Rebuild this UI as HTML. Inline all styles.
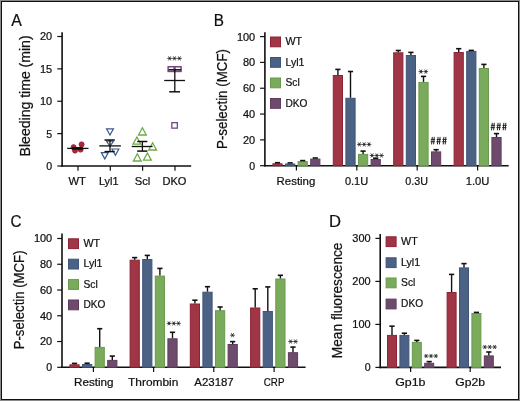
<!DOCTYPE html>
<html><head><meta charset="utf-8"><style>
html,body{margin:0;padding:0;background:#fff;}
body{width:520px;height:401px;overflow:hidden;}
svg{display:block;will-change:transform;}
text{font-family:"Liberation Sans",sans-serif;stroke:#111;stroke-width:0.22px;}
</style></head><body>
<svg width="520" height="401" viewBox="0 0 520 401" font-family="Liberation Sans, sans-serif" fill="#111">
<rect x="0" y="0" width="520" height="401" fill="#fff"/>
<rect x="0.5" y="0.5" width="519" height="400" fill="none" stroke="#8a8a8a" stroke-width="1"/>
<rect x="1.5" y="1.5" width="517" height="398" fill="none" stroke="#111" stroke-width="1"/>
<text x="11.2" y="26.0" font-size="16.6" text-anchor="start" textLength="10.6" lengthAdjust="spacingAndGlyphs" >A</text>
<text x="213.8" y="25.8" font-size="16.6" text-anchor="start" textLength="10.2" lengthAdjust="spacingAndGlyphs" >B</text>
<text x="10.6" y="227.2" font-size="16.6" text-anchor="start" textLength="11.0" lengthAdjust="spacingAndGlyphs" >C</text>
<text x="329.0" y="227.3" font-size="16.6" text-anchor="start" textLength="12.0" lengthAdjust="spacingAndGlyphs" >D</text>
<line x1="62.1" y1="32.3" x2="62.1" y2="166.8" stroke="#111" stroke-width="1.6"/>
<line x1="57.300000000000004" y1="36.5" x2="62.1" y2="36.5" stroke="#111" stroke-width="1.2"/>
<text x="52.2" y="40.4" font-size="10.6" text-anchor="end" textLength="12.2" lengthAdjust="spacingAndGlyphs" >20</text>
<line x1="57.300000000000004" y1="68.875" x2="62.1" y2="68.875" stroke="#111" stroke-width="1.2"/>
<text x="52.2" y="72.775" font-size="10.6" text-anchor="end" textLength="12.2" lengthAdjust="spacingAndGlyphs" >15</text>
<line x1="57.300000000000004" y1="101.25" x2="62.1" y2="101.25" stroke="#111" stroke-width="1.2"/>
<text x="52.2" y="105.15" font-size="10.6" text-anchor="end" textLength="12.2" lengthAdjust="spacingAndGlyphs" >10</text>
<line x1="57.300000000000004" y1="133.625" x2="62.1" y2="133.625" stroke="#111" stroke-width="1.2"/>
<text x="52.2" y="137.525" font-size="10.6" text-anchor="end" >5</text>
<line x1="57.300000000000004" y1="166.0" x2="62.1" y2="166.0" stroke="#111" stroke-width="1.2"/>
<text x="52.2" y="169.9" font-size="10.6" text-anchor="end" >0</text>
<line x1="61.300000000000004" y1="166.0" x2="191.2" y2="166.0" stroke="#111" stroke-width="1.6"/>
<line x1="78.0" y1="166.0" x2="78.0" y2="170.7" stroke="#111" stroke-width="1.2"/>
<line x1="110.3" y1="166.0" x2="110.3" y2="170.7" stroke="#111" stroke-width="1.2"/>
<line x1="142.6" y1="166.0" x2="142.6" y2="170.7" stroke="#111" stroke-width="1.2"/>
<line x1="175.0" y1="166.0" x2="175.0" y2="170.7" stroke="#111" stroke-width="1.2"/>
<text x="77.15" y="184.9" font-size="11.3" text-anchor="middle" textLength="17.5" lengthAdjust="spacingAndGlyphs" >WT</text>
<text x="108.75" y="184.9" font-size="11.3" text-anchor="middle" textLength="19.7" lengthAdjust="spacingAndGlyphs" >Lyl1</text>
<text x="142.55" y="184.9" font-size="11.3" text-anchor="middle" textLength="15.6" lengthAdjust="spacingAndGlyphs" >Scl</text>
<text x="174.4" y="184.9" font-size="11.3" text-anchor="middle" textLength="24.0" lengthAdjust="spacingAndGlyphs" >DKO</text>
<text transform="translate(30.2,95.9) rotate(-90)" font-size="14.2" text-anchor="middle" textLength="121.0" lengthAdjust="spacingAndGlyphs">Bleeding time (min)</text>
<circle cx="73.6" cy="147.2" r="2.6" fill="#A8283A" stroke="#8E1F31" stroke-width="0.6"/>
<circle cx="75.0" cy="150.6" r="2.6" fill="#A8283A" stroke="#8E1F31" stroke-width="0.6"/>
<circle cx="81.6" cy="144.4" r="2.6" fill="#A8283A" stroke="#8E1F31" stroke-width="0.6"/>
<circle cx="80.6" cy="149.6" r="2.6" fill="#A8283A" stroke="#8E1F31" stroke-width="0.6"/>
<line x1="67.2" y1="148.4" x2="88.5" y2="148.4" stroke="#111" stroke-width="1.3"/>
<rect x="72.2" y="147.0" width="10.6" height="2.8" fill="#111"/>
<polygon points="106.55,128.8 113.45,128.8 110.0,135.10000000000002" fill="none" stroke="#3A5A8A" stroke-width="1.2" stroke-linejoin="miter"/>
<polygon points="106.55,141.2 113.45,141.2 110.0,146.39999999999998" fill="none" stroke="#3A5A8A" stroke-width="1.2" stroke-linejoin="miter"/>
<polygon points="101.35,152.6 108.25,152.6 104.8,158.9" fill="none" stroke="#3A5A8A" stroke-width="1.2" stroke-linejoin="miter"/>
<polygon points="111.95,149.0 118.85000000000001,149.0 115.4,155.3" fill="none" stroke="#3A5A8A" stroke-width="1.2" stroke-linejoin="miter"/>
<line x1="99.3" y1="145.9" x2="120.9" y2="145.9" stroke="#111" stroke-width="1.3"/>
<line x1="110.0" y1="140.0" x2="110.0" y2="151.6" stroke="#111" stroke-width="1.3"/>
<line x1="104.5" y1="140.0" x2="114.8" y2="140.0" stroke="#111" stroke-width="1.5"/>
<line x1="104.5" y1="151.6" x2="114.8" y2="151.6" stroke="#111" stroke-width="1.5"/>
<polygon points="142.4,127.8 146.3,135.0 138.5,135.0" fill="none" stroke="#6BAA45" stroke-width="1.3" stroke-linejoin="miter"/>
<polygon points="136.9,137.0 140.8,144.2 133.0,144.2" fill="none" stroke="#6BAA45" stroke-width="1.3" stroke-linejoin="miter"/>
<polygon points="152.6,142.8 156.5,150.0 148.7,150.0" fill="none" stroke="#6BAA45" stroke-width="1.3" stroke-linejoin="miter"/>
<polygon points="137.3,153.8 141.20000000000002,161.0 133.4,161.0" fill="none" stroke="#6BAA45" stroke-width="1.3" stroke-linejoin="miter"/>
<polygon points="147.4,153.0 151.3,160.2 143.5,160.2" fill="none" stroke="#6BAA45" stroke-width="1.3" stroke-linejoin="miter"/>
<line x1="131.7" y1="146.5" x2="152.6" y2="146.5" stroke="#111" stroke-width="1.3"/>
<line x1="142.4" y1="141.5" x2="142.4" y2="151.1" stroke="#111" stroke-width="1.3"/>
<line x1="137.2" y1="141.5" x2="147.4" y2="141.5" stroke="#111" stroke-width="1.5"/>
<line x1="137.2" y1="151.1" x2="147.4" y2="151.1" stroke="#111" stroke-width="1.5"/>
<rect x="168.15" y="66.75" width="6.9" height="4.7" fill="none" stroke="#7A4588" stroke-width="1.5"/>
<rect x="174.15" y="66.75" width="6.9" height="4.7" fill="none" stroke="#7A4588" stroke-width="1.5"/>
<rect x="171.85" y="122.65" width="5.5" height="5.5" fill="none" stroke="#764A84" stroke-width="1.3"/>
<line x1="164.2" y1="80.5" x2="185.0" y2="80.5" stroke="#111" stroke-width="1.3"/>
<line x1="174.8" y1="69.8" x2="174.8" y2="91.8" stroke="#111" stroke-width="1.3"/>
<line x1="168.6" y1="69.8" x2="181.2" y2="69.8" stroke="#111" stroke-width="1.5"/>
<line x1="169.2" y1="91.8" x2="180.0" y2="91.8" stroke="#111" stroke-width="1.5"/>
<path d="M167.25,58.40L171.95,58.40M168.42,56.36L170.78,60.44M170.78,56.36L168.42,60.44" stroke="#333" stroke-width="0.85" fill="none" stroke-linecap="butt"/>
<circle cx="169.6" cy="58.4" r="0.8" fill="#222"/>
<path d="M172.15,58.40L176.85,58.40M173.32,56.36L175.68,60.44M175.68,56.36L173.32,60.44" stroke="#333" stroke-width="0.85" fill="none" stroke-linecap="butt"/>
<circle cx="174.5" cy="58.4" r="0.8" fill="#222"/>
<path d="M177.05,58.40L181.75,58.40M178.22,56.36L180.58,60.44M180.58,56.36L178.22,60.44" stroke="#333" stroke-width="0.85" fill="none" stroke-linecap="butt"/>
<circle cx="179.4" cy="58.4" r="0.8" fill="#222"/>
<line x1="264.9" y1="32.3" x2="264.9" y2="166.5" stroke="#111" stroke-width="1.6"/>
<line x1="260.09999999999997" y1="36.599999999999994" x2="264.9" y2="36.599999999999994" stroke="#111" stroke-width="1.2"/>
<text x="255.2" y="40.49999999999999" font-size="10.6" text-anchor="end" textLength="18.3" lengthAdjust="spacingAndGlyphs" >100</text>
<line x1="260.09999999999997" y1="62.41999999999999" x2="264.9" y2="62.41999999999999" stroke="#111" stroke-width="1.2"/>
<text x="255.2" y="66.32" font-size="10.6" text-anchor="end" textLength="12.2" lengthAdjust="spacingAndGlyphs" >80</text>
<line x1="260.09999999999997" y1="88.23999999999998" x2="264.9" y2="88.23999999999998" stroke="#111" stroke-width="1.2"/>
<text x="255.2" y="92.13999999999999" font-size="10.6" text-anchor="end" textLength="12.2" lengthAdjust="spacingAndGlyphs" >60</text>
<line x1="260.09999999999997" y1="114.05999999999999" x2="264.9" y2="114.05999999999999" stroke="#111" stroke-width="1.2"/>
<text x="255.2" y="117.96" font-size="10.6" text-anchor="end" textLength="12.2" lengthAdjust="spacingAndGlyphs" >40</text>
<line x1="260.09999999999997" y1="139.88" x2="264.9" y2="139.88" stroke="#111" stroke-width="1.2"/>
<text x="255.2" y="143.78" font-size="10.6" text-anchor="end" textLength="12.2" lengthAdjust="spacingAndGlyphs" >20</text>
<line x1="260.09999999999997" y1="165.7" x2="264.9" y2="165.7" stroke="#111" stroke-width="1.2"/>
<text x="255.2" y="169.6" font-size="10.6" text-anchor="end" >0</text>
<line x1="264.09999999999997" y1="165.7" x2="508.7" y2="165.7" stroke="#111" stroke-width="1.6"/>
<line x1="296.4" y1="165.7" x2="296.4" y2="170.39999999999998" stroke="#111" stroke-width="1.2"/>
<line x1="356.8" y1="165.7" x2="356.8" y2="170.39999999999998" stroke="#111" stroke-width="1.2"/>
<line x1="417.2" y1="165.7" x2="417.2" y2="170.39999999999998" stroke="#111" stroke-width="1.2"/>
<line x1="477.6" y1="165.7" x2="477.6" y2="170.39999999999998" stroke="#111" stroke-width="1.2"/>
<text x="295.95" y="185.0" font-size="11.3" text-anchor="middle" textLength="38.7" lengthAdjust="spacingAndGlyphs" >Resting</text>
<text x="356.55" y="185.0" font-size="11.3" text-anchor="middle" textLength="23.3" lengthAdjust="spacingAndGlyphs" >0.1U</text>
<text x="416.65" y="185.0" font-size="11.3" text-anchor="middle" textLength="22.7" lengthAdjust="spacingAndGlyphs" >0.3U</text>
<text x="477.55" y="185.0" font-size="11.3" text-anchor="middle" textLength="23.7" lengthAdjust="spacingAndGlyphs" >1.0U</text>
<text transform="translate(226.6,99.0) rotate(-90)" font-size="14.2" text-anchor="middle" textLength="100.0" lengthAdjust="spacingAndGlyphs">P-selectin (MCF)</text>
<rect x="270.5" y="37.0" width="10" height="9.8" fill="#A03545" stroke="#8C2436" stroke-width="1"/>
<text x="285.5" y="45.1" font-size="10.8" text-anchor="start" textLength="16.6" lengthAdjust="spacingAndGlyphs" >WT</text>
<rect x="270.5" y="57.5" width="10" height="9.8" fill="#4C6285" stroke="#3E5479" stroke-width="1"/>
<text x="285.5" y="65.6" font-size="10.8" text-anchor="start" textLength="19.0" lengthAdjust="spacingAndGlyphs" >Lyl1</text>
<rect x="270.5" y="78.0" width="10" height="9.8" fill="#7AAB5C" stroke="#69994C" stroke-width="1"/>
<text x="285.5" y="86.1" font-size="10.8" text-anchor="start" textLength="14.3" lengthAdjust="spacingAndGlyphs" >Scl</text>
<rect x="270.5" y="98.5" width="10" height="9.8" fill="#6E4B6C" stroke="#5E3D5C" stroke-width="1"/>
<text x="285.5" y="106.6" font-size="10.8" text-anchor="start" textLength="22.0" lengthAdjust="spacingAndGlyphs" >DKO</text>
<rect x="272.90" y="163.80" width="9.20" height="1.90" fill="#A03545" stroke="#8C2436" stroke-width="1"/>
<line x1="277.5" y1="163.3" x2="277.5" y2="162.7" stroke="#111" stroke-width="1.4"/>
<line x1="274.9" y1="162.7" x2="280.1" y2="162.7" stroke="#111" stroke-width="1.6"/>
<rect x="285.50" y="164.00" width="9.20" height="1.70" fill="#4C6285" stroke="#3E5479" stroke-width="1"/>
<line x1="287.49999999999994" y1="162.9" x2="292.7" y2="162.9" stroke="#111" stroke-width="1.6"/>
<rect x="298.10" y="161.60" width="9.20" height="4.10" fill="#7AAB5C" stroke="#69994C" stroke-width="1"/>
<line x1="300.09999999999997" y1="160.6" x2="305.3" y2="160.6" stroke="#111" stroke-width="1.6"/>
<rect x="310.70" y="159.10" width="9.20" height="6.60" fill="#6E4B6C" stroke="#5E3D5C" stroke-width="1"/>
<line x1="312.69999999999993" y1="158.0" x2="317.9" y2="158.0" stroke="#111" stroke-width="1.6"/>
<rect x="333.30" y="75.50" width="9.20" height="90.20" fill="#A03545" stroke="#8C2436" stroke-width="1"/>
<line x1="337.90000000000003" y1="75.0" x2="337.90000000000003" y2="69.4" stroke="#111" stroke-width="1.4"/>
<line x1="335.3" y1="69.4" x2="340.50000000000006" y2="69.4" stroke="#111" stroke-width="1.6"/>
<rect x="345.90" y="98.30" width="9.20" height="67.40" fill="#4C6285" stroke="#3E5479" stroke-width="1"/>
<line x1="350.5" y1="97.8" x2="350.5" y2="71.5" stroke="#111" stroke-width="1.4"/>
<line x1="347.9" y1="71.5" x2="353.1" y2="71.5" stroke="#111" stroke-width="1.6"/>
<rect x="358.50" y="154.40" width="9.20" height="11.30" fill="#7AAB5C" stroke="#69994C" stroke-width="1"/>
<line x1="363.1" y1="153.9" x2="363.1" y2="151.1" stroke="#111" stroke-width="1.4"/>
<line x1="360.5" y1="151.1" x2="365.70000000000005" y2="151.1" stroke="#111" stroke-width="1.6"/>
<rect x="371.10" y="159.50" width="9.20" height="6.20" fill="#6E4B6C" stroke="#5E3D5C" stroke-width="1"/>
<line x1="375.7" y1="159.0" x2="375.7" y2="158.2" stroke="#111" stroke-width="1.4"/>
<line x1="373.09999999999997" y1="158.2" x2="378.3" y2="158.2" stroke="#111" stroke-width="1.6"/>
<rect x="393.70" y="52.80" width="9.20" height="112.90" fill="#A03545" stroke="#8C2436" stroke-width="1"/>
<line x1="398.3" y1="52.3" x2="398.3" y2="50.5" stroke="#111" stroke-width="1.4"/>
<line x1="395.7" y1="50.5" x2="400.90000000000003" y2="50.5" stroke="#111" stroke-width="1.6"/>
<rect x="406.30" y="55.50" width="9.20" height="110.20" fill="#4C6285" stroke="#3E5479" stroke-width="1"/>
<line x1="410.9" y1="55.0" x2="410.9" y2="52.4" stroke="#111" stroke-width="1.4"/>
<line x1="408.29999999999995" y1="52.4" x2="413.5" y2="52.4" stroke="#111" stroke-width="1.6"/>
<rect x="418.90" y="82.40" width="9.20" height="83.30" fill="#7AAB5C" stroke="#69994C" stroke-width="1"/>
<line x1="423.5" y1="81.9" x2="423.5" y2="76.4" stroke="#111" stroke-width="1.4"/>
<line x1="420.9" y1="76.4" x2="426.1" y2="76.4" stroke="#111" stroke-width="1.6"/>
<rect x="431.50" y="151.90" width="9.20" height="13.80" fill="#6E4B6C" stroke="#5E3D5C" stroke-width="1"/>
<line x1="436.09999999999997" y1="151.4" x2="436.09999999999997" y2="149.7" stroke="#111" stroke-width="1.4"/>
<line x1="433.49999999999994" y1="149.7" x2="438.7" y2="149.7" stroke="#111" stroke-width="1.6"/>
<rect x="454.10" y="52.50" width="9.20" height="113.20" fill="#A03545" stroke="#8C2436" stroke-width="1"/>
<line x1="458.70000000000005" y1="52.0" x2="458.70000000000005" y2="48.7" stroke="#111" stroke-width="1.4"/>
<line x1="456.1" y1="48.7" x2="461.30000000000007" y2="48.7" stroke="#111" stroke-width="1.6"/>
<rect x="466.70" y="51.40" width="9.20" height="114.30" fill="#4C6285" stroke="#3E5479" stroke-width="1"/>
<line x1="468.7" y1="50.4" x2="473.90000000000003" y2="50.4" stroke="#111" stroke-width="1.6"/>
<rect x="479.30" y="68.50" width="9.20" height="97.20" fill="#7AAB5C" stroke="#69994C" stroke-width="1"/>
<line x1="483.90000000000003" y1="68.0" x2="483.90000000000003" y2="64.4" stroke="#111" stroke-width="1.4"/>
<line x1="481.3" y1="64.4" x2="486.50000000000006" y2="64.4" stroke="#111" stroke-width="1.6"/>
<rect x="491.90" y="137.50" width="9.20" height="28.20" fill="#6E4B6C" stroke="#5E3D5C" stroke-width="1"/>
<line x1="496.5" y1="137.0" x2="496.5" y2="133.6" stroke="#111" stroke-width="1.4"/>
<line x1="493.9" y1="133.6" x2="499.1" y2="133.6" stroke="#111" stroke-width="1.6"/>
<path d="M357.05,144.40L361.75,144.40M358.22,142.36L360.57,146.44M360.57,142.36L358.22,146.44" stroke="#333" stroke-width="0.85" fill="none" stroke-linecap="butt"/>
<circle cx="359.4" cy="144.4" r="0.8" fill="#222"/>
<path d="M361.85,144.40L366.55,144.40M363.02,142.36L365.38,146.44M365.38,142.36L363.02,146.44" stroke="#333" stroke-width="0.85" fill="none" stroke-linecap="butt"/>
<circle cx="364.2" cy="144.4" r="0.8" fill="#222"/>
<path d="M366.65,144.40L371.35,144.40M367.82,142.36L370.18,146.44M370.18,142.36L367.82,146.44" stroke="#333" stroke-width="0.85" fill="none" stroke-linecap="butt"/>
<circle cx="369.0" cy="144.4" r="0.8" fill="#222"/>
<path d="M369.75,155.50L374.45,155.50M370.93,153.46L373.28,157.54M373.28,153.46L370.93,157.54" stroke="#333" stroke-width="0.85" fill="none" stroke-linecap="butt"/>
<circle cx="372.1" cy="155.5" r="0.8" fill="#222"/>
<path d="M374.45,155.50L379.15,155.50M375.62,153.46L377.98,157.54M377.98,153.46L375.62,157.54" stroke="#333" stroke-width="0.85" fill="none" stroke-linecap="butt"/>
<circle cx="376.8" cy="155.5" r="0.8" fill="#222"/>
<path d="M379.15,155.50L383.85,155.50M380.32,153.46L382.68,157.54M382.68,153.46L380.32,157.54" stroke="#333" stroke-width="0.85" fill="none" stroke-linecap="butt"/>
<circle cx="381.5" cy="155.5" r="0.8" fill="#222"/>
<path d="M418.55,71.60L423.25,71.60M419.72,69.56L422.07,73.64M422.07,69.56L419.72,73.64" stroke="#333" stroke-width="0.85" fill="none" stroke-linecap="butt"/>
<circle cx="420.9" cy="71.6" r="0.8" fill="#222"/>
<path d="M423.45,71.60L428.15,71.60M424.62,69.56L426.98,73.64M426.98,69.56L424.62,73.64" stroke="#333" stroke-width="0.85" fill="none" stroke-linecap="butt"/>
<circle cx="425.8" cy="71.6" r="0.8" fill="#222"/>
<path d="M432.30,136.90L431.60,144.40M434.30,136.90L433.60,144.40M430.90,139.45L435.00,139.45M430.60,141.70L434.80,141.70" stroke="#1a1a1a" stroke-width="0.95" fill="none"/>
<path d="M438.10,136.90L437.40,144.40M440.10,136.90L439.40,144.40M436.70,139.45L440.80,139.45M436.40,141.70L440.60,141.70" stroke="#1a1a1a" stroke-width="0.95" fill="none"/>
<path d="M443.90,136.90L443.20,144.40M445.90,136.90L445.20,144.40M442.50,139.45L446.60,139.45M442.20,141.70L446.40,141.70" stroke="#1a1a1a" stroke-width="0.95" fill="none"/>
<path d="M492.30,122.80L491.60,130.30M494.30,122.80L493.60,130.30M490.90,125.35L495.00,125.35M490.60,127.60L494.80,127.60" stroke="#1a1a1a" stroke-width="0.95" fill="none"/>
<path d="M498.10,122.80L497.40,130.30M500.10,122.80L499.40,130.30M496.70,125.35L500.80,125.35M496.40,127.60L500.60,127.60" stroke="#1a1a1a" stroke-width="0.95" fill="none"/>
<path d="M503.90,122.80L503.20,130.30M505.90,122.80L505.20,130.30M502.50,125.35L506.60,125.35M502.20,127.60L506.40,127.60" stroke="#1a1a1a" stroke-width="0.95" fill="none"/>
<line x1="62.0" y1="233.5" x2="62.0" y2="368.1" stroke="#111" stroke-width="1.6"/>
<line x1="57.2" y1="238.5" x2="62.0" y2="238.5" stroke="#111" stroke-width="1.2"/>
<text x="52.2" y="242.4" font-size="10.6" text-anchor="end" textLength="18.3" lengthAdjust="spacingAndGlyphs" >100</text>
<line x1="57.2" y1="264.26" x2="62.0" y2="264.26" stroke="#111" stroke-width="1.2"/>
<text x="52.2" y="268.15999999999997" font-size="10.6" text-anchor="end" textLength="12.2" lengthAdjust="spacingAndGlyphs" >80</text>
<line x1="57.2" y1="290.02" x2="62.0" y2="290.02" stroke="#111" stroke-width="1.2"/>
<text x="52.2" y="293.91999999999996" font-size="10.6" text-anchor="end" textLength="12.2" lengthAdjust="spacingAndGlyphs" >60</text>
<line x1="57.2" y1="315.78000000000003" x2="62.0" y2="315.78000000000003" stroke="#111" stroke-width="1.2"/>
<text x="52.2" y="319.68" font-size="10.6" text-anchor="end" textLength="12.2" lengthAdjust="spacingAndGlyphs" >40</text>
<line x1="57.2" y1="341.54" x2="62.0" y2="341.54" stroke="#111" stroke-width="1.2"/>
<text x="52.2" y="345.44" font-size="10.6" text-anchor="end" textLength="12.2" lengthAdjust="spacingAndGlyphs" >20</text>
<line x1="57.2" y1="367.3" x2="62.0" y2="367.3" stroke="#111" stroke-width="1.2"/>
<text x="52.2" y="371.2" font-size="10.6" text-anchor="end" >0</text>
<line x1="61.2" y1="367.3" x2="305.6" y2="367.3" stroke="#111" stroke-width="1.6"/>
<line x1="93.4" y1="367.3" x2="93.4" y2="372.0" stroke="#111" stroke-width="1.2"/>
<line x1="153.6" y1="367.3" x2="153.6" y2="372.0" stroke="#111" stroke-width="1.2"/>
<line x1="213.8" y1="367.3" x2="213.8" y2="372.0" stroke="#111" stroke-width="1.2"/>
<line x1="274.1" y1="367.3" x2="274.1" y2="372.0" stroke="#111" stroke-width="1.2"/>
<text x="93.75" y="386.3" font-size="11.3" text-anchor="middle" textLength="39.5" lengthAdjust="spacingAndGlyphs" >Resting</text>
<text x="153.25" y="386.3" font-size="11.3" text-anchor="middle" textLength="50.3" lengthAdjust="spacingAndGlyphs" >Thrombin</text>
<text x="214.0" y="386.3" font-size="11.3" text-anchor="middle" textLength="39.4" lengthAdjust="spacingAndGlyphs" >A23187</text>
<text x="274.1" y="386.3" font-size="11.3" text-anchor="middle" textLength="20.6" lengthAdjust="spacingAndGlyphs" >CRP</text>
<text transform="translate(23.6,299.9) rotate(-90)" font-size="14.2" text-anchor="middle" textLength="98.9" lengthAdjust="spacingAndGlyphs">P-selectin (MCF)</text>
<rect x="68.5" y="238.8" width="10" height="9.8" fill="#A03545" stroke="#8C2436" stroke-width="1"/>
<text x="83.5" y="246.9" font-size="10.8" text-anchor="start" textLength="16.6" lengthAdjust="spacingAndGlyphs" >WT</text>
<rect x="68.5" y="259.2" width="10" height="9.8" fill="#4C6285" stroke="#3E5479" stroke-width="1"/>
<text x="83.5" y="267.3" font-size="10.8" text-anchor="start" textLength="19.0" lengthAdjust="spacingAndGlyphs" >Lyl1</text>
<rect x="68.5" y="279.6" width="10" height="9.8" fill="#7AAB5C" stroke="#69994C" stroke-width="1"/>
<text x="83.5" y="287.70000000000005" font-size="10.8" text-anchor="start" textLength="14.3" lengthAdjust="spacingAndGlyphs" >Scl</text>
<rect x="68.5" y="300.0" width="10" height="9.8" fill="#6E4B6C" stroke="#5E3D5C" stroke-width="1"/>
<text x="83.5" y="308.1" font-size="10.8" text-anchor="start" textLength="22.0" lengthAdjust="spacingAndGlyphs" >DKO</text>
<rect x="69.90" y="364.80" width="9.20" height="2.50" fill="#A03545" stroke="#8C2436" stroke-width="1"/>
<line x1="74.5" y1="364.3" x2="74.5" y2="363.4" stroke="#111" stroke-width="1.4"/>
<line x1="71.9" y1="363.4" x2="77.1" y2="363.4" stroke="#111" stroke-width="1.6"/>
<rect x="82.50" y="364.50" width="9.20" height="2.80" fill="#4C6285" stroke="#3E5479" stroke-width="1"/>
<line x1="87.10000000000001" y1="364.0" x2="87.10000000000001" y2="363.2" stroke="#111" stroke-width="1.4"/>
<line x1="84.50000000000001" y1="363.2" x2="89.7" y2="363.2" stroke="#111" stroke-width="1.6"/>
<rect x="95.10" y="347.40" width="9.20" height="19.90" fill="#7AAB5C" stroke="#69994C" stroke-width="1"/>
<line x1="99.7" y1="346.9" x2="99.7" y2="328.7" stroke="#111" stroke-width="1.4"/>
<line x1="97.10000000000001" y1="328.7" x2="102.3" y2="328.7" stroke="#111" stroke-width="1.6"/>
<rect x="107.70" y="360.40" width="9.20" height="6.90" fill="#6E4B6C" stroke="#5E3D5C" stroke-width="1"/>
<line x1="112.30000000000001" y1="359.9" x2="112.30000000000001" y2="356.1" stroke="#111" stroke-width="1.4"/>
<line x1="109.70000000000002" y1="356.1" x2="114.9" y2="356.1" stroke="#111" stroke-width="1.6"/>
<rect x="130.10" y="260.20" width="9.20" height="107.10" fill="#A03545" stroke="#8C2436" stroke-width="1"/>
<line x1="134.7" y1="259.7" x2="134.7" y2="257.6" stroke="#111" stroke-width="1.4"/>
<line x1="132.1" y1="257.6" x2="137.29999999999998" y2="257.6" stroke="#111" stroke-width="1.6"/>
<rect x="142.70" y="259.50" width="9.20" height="107.80" fill="#4C6285" stroke="#3E5479" stroke-width="1"/>
<line x1="147.29999999999998" y1="259.0" x2="147.29999999999998" y2="255.4" stroke="#111" stroke-width="1.4"/>
<line x1="144.7" y1="255.4" x2="149.89999999999998" y2="255.4" stroke="#111" stroke-width="1.6"/>
<rect x="155.30" y="276.10" width="9.20" height="91.20" fill="#7AAB5C" stroke="#69994C" stroke-width="1"/>
<line x1="159.9" y1="275.6" x2="159.9" y2="268.4" stroke="#111" stroke-width="1.4"/>
<line x1="157.3" y1="268.4" x2="162.5" y2="268.4" stroke="#111" stroke-width="1.6"/>
<rect x="167.90" y="338.80" width="9.20" height="28.50" fill="#6E4B6C" stroke="#5E3D5C" stroke-width="1"/>
<line x1="172.5" y1="338.3" x2="172.5" y2="332.3" stroke="#111" stroke-width="1.4"/>
<line x1="169.9" y1="332.3" x2="175.1" y2="332.3" stroke="#111" stroke-width="1.6"/>
<rect x="190.30" y="304.00" width="9.20" height="63.30" fill="#A03545" stroke="#8C2436" stroke-width="1"/>
<line x1="194.9" y1="303.5" x2="194.9" y2="300.2" stroke="#111" stroke-width="1.4"/>
<line x1="192.3" y1="300.2" x2="197.5" y2="300.2" stroke="#111" stroke-width="1.6"/>
<rect x="202.90" y="292.20" width="9.20" height="75.10" fill="#4C6285" stroke="#3E5479" stroke-width="1"/>
<line x1="207.5" y1="291.7" x2="207.5" y2="286.7" stroke="#111" stroke-width="1.4"/>
<line x1="204.9" y1="286.7" x2="210.1" y2="286.7" stroke="#111" stroke-width="1.6"/>
<rect x="215.50" y="310.70" width="9.20" height="56.60" fill="#7AAB5C" stroke="#69994C" stroke-width="1"/>
<line x1="220.10000000000002" y1="310.2" x2="220.10000000000002" y2="307.0" stroke="#111" stroke-width="1.4"/>
<line x1="217.50000000000003" y1="307.0" x2="222.70000000000002" y2="307.0" stroke="#111" stroke-width="1.6"/>
<rect x="228.10" y="344.50" width="9.20" height="22.80" fill="#6E4B6C" stroke="#5E3D5C" stroke-width="1"/>
<line x1="232.70000000000002" y1="344.0" x2="232.70000000000002" y2="341.6" stroke="#111" stroke-width="1.4"/>
<line x1="230.10000000000002" y1="341.6" x2="235.3" y2="341.6" stroke="#111" stroke-width="1.6"/>
<rect x="250.60" y="308.00" width="9.20" height="59.30" fill="#A03545" stroke="#8C2436" stroke-width="1"/>
<line x1="255.20000000000002" y1="307.5" x2="255.20000000000002" y2="288.8" stroke="#111" stroke-width="1.4"/>
<line x1="252.60000000000002" y1="288.8" x2="257.8" y2="288.8" stroke="#111" stroke-width="1.6"/>
<rect x="263.20" y="311.50" width="9.20" height="55.80" fill="#4C6285" stroke="#3E5479" stroke-width="1"/>
<line x1="267.8" y1="311.0" x2="267.8" y2="286.9" stroke="#111" stroke-width="1.4"/>
<line x1="265.2" y1="286.9" x2="270.40000000000003" y2="286.9" stroke="#111" stroke-width="1.6"/>
<rect x="275.80" y="279.00" width="9.20" height="88.30" fill="#7AAB5C" stroke="#69994C" stroke-width="1"/>
<line x1="280.40000000000003" y1="278.5" x2="280.40000000000003" y2="275.3" stroke="#111" stroke-width="1.4"/>
<line x1="277.8" y1="275.3" x2="283.00000000000006" y2="275.3" stroke="#111" stroke-width="1.6"/>
<rect x="288.40" y="352.70" width="9.20" height="14.60" fill="#6E4B6C" stroke="#5E3D5C" stroke-width="1"/>
<line x1="293.0" y1="352.2" x2="293.0" y2="347.1" stroke="#111" stroke-width="1.4"/>
<line x1="290.4" y1="347.1" x2="295.6" y2="347.1" stroke="#111" stroke-width="1.6"/>
<path d="M166.65,323.40L171.35,323.40M167.82,321.36L170.18,325.44M170.18,321.36L167.82,325.44" stroke="#333" stroke-width="0.85" fill="none" stroke-linecap="butt"/>
<circle cx="169.0" cy="323.4" r="0.8" fill="#222"/>
<path d="M171.45,323.40L176.15,323.40M172.62,321.36L174.98,325.44M174.98,321.36L172.62,325.44" stroke="#333" stroke-width="0.85" fill="none" stroke-linecap="butt"/>
<circle cx="173.8" cy="323.4" r="0.8" fill="#222"/>
<path d="M176.15,323.40L180.85,323.40M177.32,321.36L179.68,325.44M179.68,321.36L177.32,325.44" stroke="#333" stroke-width="0.85" fill="none" stroke-linecap="butt"/>
<circle cx="178.5" cy="323.4" r="0.8" fill="#222"/>
<path d="M230.15,335.20L234.85,335.20M231.32,333.16L233.68,337.24M233.68,333.16L231.32,337.24" stroke="#333" stroke-width="0.85" fill="none" stroke-linecap="butt"/>
<circle cx="232.5" cy="335.2" r="0.8" fill="#222"/>
<path d="M288.25,341.50L292.95,341.50M289.43,339.46L291.78,343.54M291.78,339.46L289.43,343.54" stroke="#333" stroke-width="0.85" fill="none" stroke-linecap="butt"/>
<circle cx="290.6" cy="341.5" r="0.8" fill="#222"/>
<path d="M293.15,341.50L297.85,341.50M294.32,339.46L296.68,343.54M296.68,339.46L294.32,343.54" stroke="#333" stroke-width="0.85" fill="none" stroke-linecap="butt"/>
<circle cx="295.5" cy="341.5" r="0.8" fill="#222"/>
<line x1="380.2" y1="233.9" x2="380.2" y2="368.2" stroke="#111" stroke-width="1.6"/>
<line x1="375.4" y1="238.39999999999998" x2="380.2" y2="238.39999999999998" stroke="#111" stroke-width="1.2"/>
<text x="370.6" y="242.29999999999998" font-size="10.6" text-anchor="end" textLength="18.3" lengthAdjust="spacingAndGlyphs" >300</text>
<line x1="375.4" y1="281.4" x2="380.2" y2="281.4" stroke="#111" stroke-width="1.2"/>
<text x="370.6" y="285.29999999999995" font-size="10.6" text-anchor="end" textLength="18.3" lengthAdjust="spacingAndGlyphs" >200</text>
<line x1="375.4" y1="324.4" x2="380.2" y2="324.4" stroke="#111" stroke-width="1.2"/>
<text x="370.6" y="328.29999999999995" font-size="10.6" text-anchor="end" textLength="18.3" lengthAdjust="spacingAndGlyphs" >100</text>
<line x1="375.4" y1="367.4" x2="380.2" y2="367.4" stroke="#111" stroke-width="1.2"/>
<text x="370.6" y="371.29999999999995" font-size="10.6" text-anchor="end" >0</text>
<line x1="379.4" y1="367.4" x2="501.0" y2="367.4" stroke="#111" stroke-width="1.6"/>
<line x1="410.6" y1="367.4" x2="410.6" y2="372.09999999999997" stroke="#111" stroke-width="1.2"/>
<line x1="470.2" y1="367.4" x2="470.2" y2="372.09999999999997" stroke="#111" stroke-width="1.2"/>
<text x="410.35" y="386.3" font-size="11.3" text-anchor="middle" textLength="30.3" lengthAdjust="spacingAndGlyphs" >Gp1b</text>
<text x="470.1" y="386.3" font-size="11.3" text-anchor="middle" textLength="29.8" lengthAdjust="spacingAndGlyphs" >Gp2b</text>
<text transform="translate(341.8,300.35) rotate(-90)" font-size="14.2" text-anchor="middle" textLength="115.6" lengthAdjust="spacingAndGlyphs">Mean fluorescence</text>
<rect x="386.1" y="236.8" width="10" height="9.8" fill="#A03545" stroke="#8C2436" stroke-width="1"/>
<text x="401.1" y="244.9" font-size="10.8" text-anchor="start" textLength="16.6" lengthAdjust="spacingAndGlyphs" >WT</text>
<rect x="386.1" y="257.8" width="10" height="9.8" fill="#4C6285" stroke="#3E5479" stroke-width="1"/>
<text x="401.1" y="265.90000000000003" font-size="10.8" text-anchor="start" textLength="19.0" lengthAdjust="spacingAndGlyphs" >Lyl1</text>
<rect x="386.1" y="278.0" width="10" height="9.8" fill="#7AAB5C" stroke="#69994C" stroke-width="1"/>
<text x="401.1" y="286.1" font-size="10.8" text-anchor="start" textLength="14.3" lengthAdjust="spacingAndGlyphs" >Scl</text>
<rect x="386.1" y="299.1" width="10" height="9.8" fill="#6E4B6C" stroke="#5E3D5C" stroke-width="1"/>
<text x="401.1" y="307.20000000000005" font-size="10.8" text-anchor="start" textLength="22.0" lengthAdjust="spacingAndGlyphs" >DKO</text>
<rect x="387.50" y="335.40" width="9.00" height="32.00" fill="#A03545" stroke="#8C2436" stroke-width="1"/>
<line x1="392.0" y1="334.9" x2="392.0" y2="326.2" stroke="#111" stroke-width="1.4"/>
<line x1="389.4" y1="326.2" x2="394.6" y2="326.2" stroke="#111" stroke-width="1.6"/>
<rect x="399.90" y="335.40" width="9.00" height="32.00" fill="#4C6285" stroke="#3E5479" stroke-width="1"/>
<line x1="404.40000000000003" y1="334.9" x2="404.40000000000003" y2="333.2" stroke="#111" stroke-width="1.4"/>
<line x1="401.8" y1="333.2" x2="407.00000000000006" y2="333.2" stroke="#111" stroke-width="1.6"/>
<rect x="412.30" y="342.40" width="9.00" height="25.00" fill="#7AAB5C" stroke="#69994C" stroke-width="1"/>
<line x1="416.8" y1="341.9" x2="416.8" y2="340.4" stroke="#111" stroke-width="1.4"/>
<line x1="414.2" y1="340.4" x2="419.40000000000003" y2="340.4" stroke="#111" stroke-width="1.6"/>
<rect x="424.70" y="363.30" width="9.00" height="4.10" fill="#6E4B6C" stroke="#5E3D5C" stroke-width="1"/>
<line x1="429.20000000000005" y1="362.8" x2="429.20000000000005" y2="361.6" stroke="#111" stroke-width="1.4"/>
<line x1="426.6" y1="361.6" x2="431.80000000000007" y2="361.6" stroke="#111" stroke-width="1.6"/>
<rect x="447.10" y="292.50" width="9.00" height="74.90" fill="#A03545" stroke="#8C2436" stroke-width="1"/>
<line x1="451.59999999999997" y1="292.0" x2="451.59999999999997" y2="274.4" stroke="#111" stroke-width="1.4"/>
<line x1="448.99999999999994" y1="274.4" x2="454.2" y2="274.4" stroke="#111" stroke-width="1.6"/>
<rect x="459.50" y="267.90" width="9.00" height="99.50" fill="#4C6285" stroke="#3E5479" stroke-width="1"/>
<line x1="464.0" y1="267.4" x2="464.0" y2="263.6" stroke="#111" stroke-width="1.4"/>
<line x1="461.4" y1="263.6" x2="466.6" y2="263.6" stroke="#111" stroke-width="1.6"/>
<rect x="471.90" y="313.50" width="9.00" height="53.90" fill="#7AAB5C" stroke="#69994C" stroke-width="1"/>
<line x1="476.4" y1="313.0" x2="476.4" y2="312.4" stroke="#111" stroke-width="1.4"/>
<line x1="473.79999999999995" y1="312.4" x2="479.0" y2="312.4" stroke="#111" stroke-width="1.6"/>
<rect x="484.30" y="355.90" width="9.00" height="11.50" fill="#6E4B6C" stroke="#5E3D5C" stroke-width="1"/>
<line x1="488.8" y1="355.4" x2="488.8" y2="352.0" stroke="#111" stroke-width="1.4"/>
<line x1="486.2" y1="352.0" x2="491.40000000000003" y2="352.0" stroke="#111" stroke-width="1.6"/>
<path d="M423.85,356.00L428.55,356.00M425.02,353.96L427.38,358.04M427.38,353.96L425.02,358.04" stroke="#333" stroke-width="0.85" fill="none" stroke-linecap="butt"/>
<circle cx="426.2" cy="356.0" r="0.8" fill="#222"/>
<path d="M428.65,356.00L433.35,356.00M429.82,353.96L432.18,358.04M432.18,353.96L429.82,358.04" stroke="#333" stroke-width="0.85" fill="none" stroke-linecap="butt"/>
<circle cx="431.0" cy="356.0" r="0.8" fill="#222"/>
<path d="M433.45,356.00L438.15,356.00M434.62,353.96L436.98,358.04M436.98,353.96L434.62,358.04" stroke="#333" stroke-width="0.85" fill="none" stroke-linecap="butt"/>
<circle cx="435.8" cy="356.0" r="0.8" fill="#222"/>
<path d="M482.45,347.00L487.15,347.00M483.62,344.96L485.98,349.04M485.98,344.96L483.62,349.04" stroke="#333" stroke-width="0.85" fill="none" stroke-linecap="butt"/>
<circle cx="484.8" cy="347.0" r="0.8" fill="#222"/>
<path d="M487.35,347.00L492.05,347.00M488.52,344.96L490.88,349.04M490.88,344.96L488.52,349.04" stroke="#333" stroke-width="0.85" fill="none" stroke-linecap="butt"/>
<circle cx="489.7" cy="347.0" r="0.8" fill="#222"/>
<path d="M492.25,347.00L496.95,347.00M493.43,344.96L495.78,349.04M495.78,344.96L493.43,349.04" stroke="#333" stroke-width="0.85" fill="none" stroke-linecap="butt"/>
<circle cx="494.6" cy="347.0" r="0.8" fill="#222"/>
</svg>
</body></html>
